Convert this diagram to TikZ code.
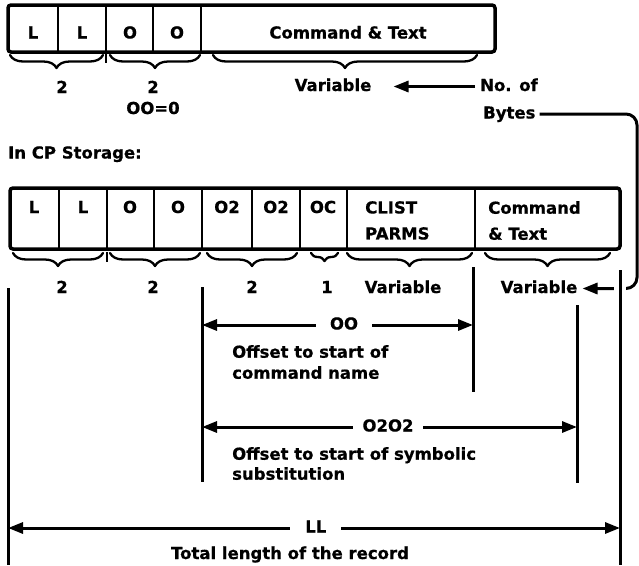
\documentclass[tikz,border=0pt]{standalone}
\usepackage{fontspec}
\setmainfont{DejaVu Sans}[BoldFeatures={FakeBold=0.6}]
\usetikzlibrary{arrows.meta,decorations.pathreplacing}
\begin{document}
\begin{tikzpicture}[x=1pt,y=-1pt,
  txt/.style={font=\fontsize{16.5}{21}\selectfont\bfseries, inner sep=0pt, text height=12pt, text depth=3pt},
  txtml/.style={font=\fontsize{16.5}{#1}\selectfont\bfseries, inner sep=0pt, align=left, anchor=north west},
  frame/.style={line width=3.5pt, rounded corners=3pt},
  divider/.style={line width=2.2pt},
  brc/.style={line width=2.3pt, line join=round, line cap=round, decorate, decoration={brace, mirror, amplitude=#1}},
  brc/.default=13pt,
  guide/.style={line width=3pt},
  tip/.tip={Triangle[length=15pt,width=11pt]},
  conn/.style={line width=3pt, -tip},
  dim/.style={line width=3pt, tip-tip},
  dimlbl/.style={txt, fill=white, inner xsep=#1},
]
\useasboundingbox (0,0) rectangle (639,565);

% ---------- record as read in ----------
\draw[frame] (8,5) rectangle (495,52);
\foreach \x in {58,106,153,201} \draw[divider] (\x,5) -- (\x,52);
\node[txt] (tl1) at (33,34) {L};
\node[txt] (tl2) at (82,34) {L};
\node[txt] (to1) at (130,34) {O};
\node[txt] (to2) at (177,34) {O};
\node[txt] (tcmd) at (348,34) {Command \& Text};

\draw[brc] (10,55) -- (103,55);
\draw[divider] (106,54) -- (106,63);
\draw[brc] (110,55) -- (200,55);
\draw[brc] (213,55) -- (477,55);

\node[txt] (tn1) at (62,88.5) {2};
\node[txt] (tn2) at (153,88.5) {2};
\node[txt] (toz) at (153,109.5) {OO=0};
\node[txt] (tvar) at (333,86.5) {Variable};
\node[txt, anchor=west] (noof) at (480,86.5) {No. of};
\node[txt, anchor=west] (bytes) at (483,114) {Bytes};
\draw[conn] ([xshift=-5pt]noof.west) -- ([xshift=22pt]tvar.east);

\node[txt, anchor=west] (cps) at (8,154) {In CP Storage:};

% ---------- record in CP storage ----------
\draw[frame] (10,188) rectangle (620,249);
\foreach \x in {59,107,154,202,252,300,347,475} \draw[divider] (\x,188) -- (\x,249);
\node[txt] (bl1) at (34,208.5) {L};
\node[txt] (bl2) at (83,208.5) {L};
\node[txt] (bo1) at (130,208.5) {O};
\node[txt] (bo2) at (178,208.5) {O};
\node[txt] (bq1) at (227,208.5) {O2};
\node[txt] (bq2) at (276,208.5) {O2};
\node[txt] (boc) at (323,208.5) {OC};
\node[txtml=26pt] (clist) at (365,201) {CLIST\\PARMS};
\node[txtml=26pt] (bcmd) at (488,201) {Command\\\& Text};

\draw[brc] (13,253) -- (103,253);
\draw[divider] (107,252) -- (107,262);
\draw[brc] (110,253) -- (200,253);
\draw[brc] (207,253) -- (297,253);
\draw[brc=8pt] (311,253) -- (338,253);
\draw[brc] (347,253) -- (472,253);
\draw[brc] (485,253) -- (610,253);

\node[txt] (bn1) at (62,288.5) {2};
\node[txt] (bn2) at (153,288.5) {2};
\node[txt] (bn3) at (252,288.5) {2};
\node[txt] (bn4) at (327,288.5) {1};
\node[txt] (va) at (403,288.5) {Variable};
\node[txt] (vb) at (539,288.5) {Variable};

% byte count pointer from the upper record
\coordinate (edge) at (637,0);
\draw[conn, rounded corners=11pt] ([xshift=4pt]bytes.east) -- (bytes.east -| edge)
  -- (vb.east -| edge) -- ([xshift=5pt]vb.east);

% extension lines
\draw[guide] (8,288) -- (8,565);
\draw[guide] (202,287) -- (202,482);
\draw[guide] (473,267) -- (473,392);
\draw[guide] (577,305) -- (577,483);
\draw[guide, preaction={draw=white, line width=12pt}] (620,270) -- (620,565);

% offsets and length
\coordinate (ool) at (202,325);
\coordinate (oor) at (473,325);
\draw[dim] (ool) -- node[dimlbl=14pt, pos=0.524] (oolbl) {OO} (oor);
\node[txtml=21pt] (oodesc) at (232,345) {Offset to start of\\command name};

\coordinate (qql) at (202,427);
\coordinate (qqr) at (577,427);
\draw[dim] (qql) -- node[dimlbl=9pt, pos=0.496] (qqlbl) {O2O2} (qqr);
\node[txtml=20pt] (qqdesc) at (232,447) {Offset to start of symbolic\\substitution};

\coordinate (lll) at (8,528);
\coordinate (llr) at (620,528);
\draw[dim] (lll) -- node[dimlbl=15pt, pos=0.503] (lllbl) {LL} (llr);
\node[txt] (lldesc) at (290,554.5) {Total length of the record};
\end{tikzpicture}
\end{document}
